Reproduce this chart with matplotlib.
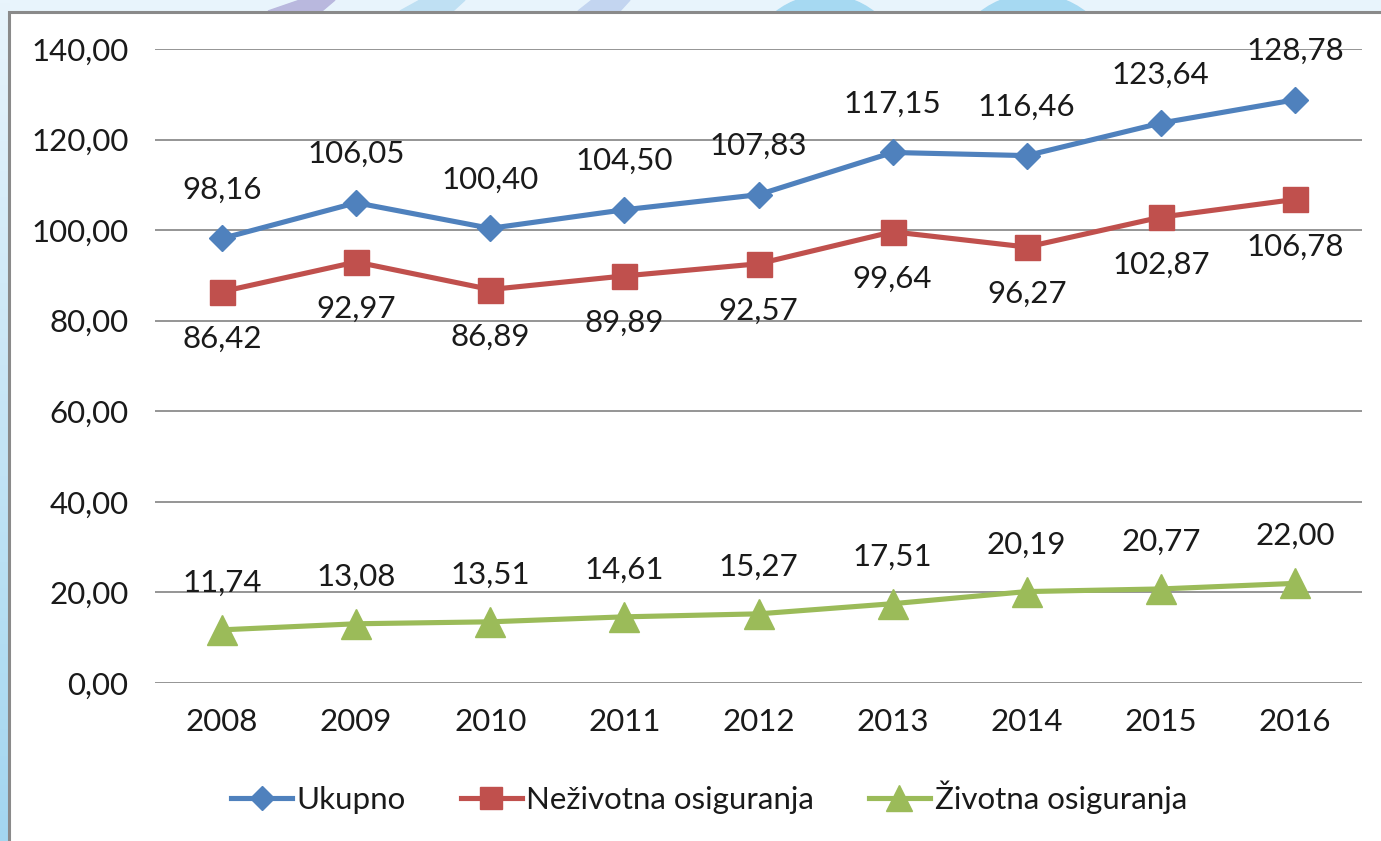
import matplotlib
matplotlib.use("Agg")
import matplotlib.pyplot as plt
from matplotlib.patches import Polygon, Rectangle, Circle
from matplotlib.colors import LinearSegmentedColormap
import numpy as np

years = ["2008", "2009", "2010", "2011", "2012", "2013", "2014", "2015", "2016"]
ukupno = [98.16, 106.05, 100.40, 104.50, 107.83, 117.15, 116.46, 123.64, 128.78]
nezivotna = [86.42, 92.97, 86.89, 89.89, 92.57, 99.64, 96.27, 102.87, 106.78]
zivotna = [11.74, 13.08, 13.51, 14.61, 15.27, 17.51, 20.19, 20.77, 22.00]
series_names = ["Ukupno", "Neživotna osiguranja", "Životna osiguranja"]
yticks = [0, 20, 40, 60, 80, 100, 120, 140]

plt.rcParams['font.family'] = ['Lato', 'DejaVu Sans']

W, H = 1381, 841
fig = plt.figure(figsize=(W / 100, H / 100), dpi=100)
fig.patch.set_facecolor("#e8f4fc")

# background decoration axes in pixel coordinates
bg = fig.add_axes([0, 0, 1, 1], zorder=-10)
bg.set_xlim(0, W)
bg.set_ylim(H, 0)
bg.axis("off")
grad = np.linspace(0, 1, 256).reshape(-1, 1)
cm = LinearSegmentedColormap.from_list("g", ["#e8f4fc", "#a3d6f0"])
bg.imshow(grad, cmap=cm, extent=[0, 10, H, 0], aspect="auto", zorder=0)
bg.add_patch(Polygon([[268, 11], [322, 11], [335, 0], [300, 0]], closed=True, color="#b9b8de", zorder=1))
bg.add_patch(Polygon([[400, 11], [453, 11], [465, 0], [420, 0]], closed=True, color="#bfe0f3", zorder=1))
bg.add_patch(Polygon([[578, 11], [620, 11], [630, 0], [592, 0]], closed=True, color="#c3d5f0", zorder=1))
bg.add_patch(Circle((825, 75), 80, color="#a6d9f2", zorder=1))
bg.add_patch(Circle((1033, 80), 86, color="#a6d9f2", zorder=1))
bg.add_patch(Rectangle((9.5, 11.5), W, H, facecolor="white", edgecolor="#8a8a8a", linewidth=2.2, zorder=2))

# main plot axes
left, right = 155 / W, 1362 / W
top, bottom = 1 - 49 / H, 1 - 683 / H
ax = fig.add_axes([left, bottom, right - left, top - bottom])
ax.set_facecolor("none")

x = np.arange(len(years))
blue, red, green = "#4f81bd", "#c0504d", "#9bbb59"
lw = 3.7
ax.plot(x, ukupno, color=blue, lw=lw, marker="D", ms=13.5, label=series_names[0], zorder=5)
ax.plot(x, nezivotna, color=red, lw=lw, marker="s", ms=18, label=series_names[1], zorder=5)
ax.plot(x, zivotna, color=green, lw=lw, marker="^", ms=21, label=series_names[2], zorder=5)

fs = 22.5
def fmt(v):
    return f"{v:.2f}".replace(".", ",")

for xi, v in zip(x, ukupno):
    ax.annotate(fmt(v), (xi, v), xytext=(0, 35), textcoords="offset points",
                ha="center", va="center", fontsize=fs, color="#1a1a1a", zorder=6, annotation_clip=False)
for xi, v in zip(x, nezivotna):
    ax.annotate(fmt(v), (xi, v), xytext=(0, -34), textcoords="offset points",
                ha="center", va="center", fontsize=fs, color="#1a1a1a", zorder=6, annotation_clip=False)
for xi, v in zip(x, zivotna):
    ax.annotate(fmt(v), (xi, v), xytext=(0, 34), textcoords="offset points",
                ha="center", va="center", fontsize=fs, color="#1a1a1a", zorder=6, annotation_clip=False)

ax.set_xlim(-0.5, len(years) - 0.5)
ax.set_ylim(0, 140)
ax.set_yticks(yticks)
ax.set_yticklabels([fmt(v) for v in yticks], fontsize=fs, color="#1a1a1a")
ax.set_xticks(x)
ax.set_xticklabels(years, fontsize=fs, color="#1a1a1a")
ax.tick_params(axis="y", length=0, pad=19)
ax.tick_params(axis="x", length=0, pad=18)
ax.grid(axis="y", color="#8c8c8c", lw=1.3)
ax.set_axisbelow(True)
for s in ax.spines.values():
    s.set_visible(False)

leg = fig.legend(loc="center", bbox_to_anchor=(709 / W, 1 - 797 / H), ncol=3, frameon=False,
                 fontsize=fs, handlelength=1.95, handletextpad=0.15, columnspacing=1.75,
                 labelcolor="#1a1a1a")
for h in leg.legend_handles:
    h.set_markersize(h.get_markersize() * 0.9)

fig.savefig("out.png", dpi=100, facecolor=fig.get_facecolor())
